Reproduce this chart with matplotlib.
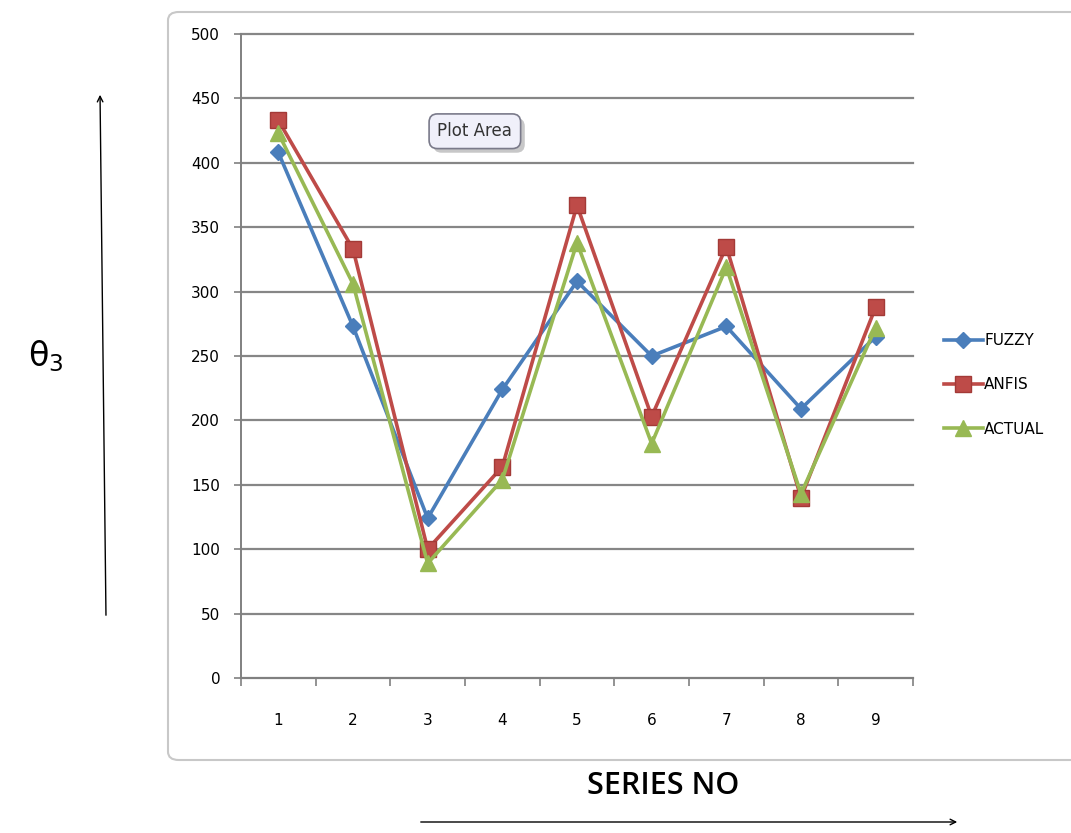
import numpy as np
import matplotlib.pyplot as plt
import matplotlib.patheffects as pe
from matplotlib.patches import FancyBboxPatch

plt.rcParams["mathtext.default"] = "regular"

series_no = [1, 2, 3, 4, 5, 6, 7, 8, 9]
fuzzy = [408, 273, 124, 224, 308, 250, 273, 209, 265]
anfis = [433, 333, 100, 164, 367, 203, 335, 140, 288]
actual = [423, 306, 89, 154, 338, 182, 319, 143, 272]

W, H = 1071, 833
fig = plt.figure(figsize=(W / 100, H / 100), dpi=100)

# chart frame
frame = FancyBboxPatch((168 / W, 1 - 760 / H), (1100 - 168) / W, (760 - 12) / H,
                       boxstyle="round,pad=0,rounding_size=0.01",
                       transform=fig.transFigure, facecolor="white",
                       edgecolor="#c8c8c8", linewidth=1.5, zorder=-5)
fig.patches.append(frame)

ax = fig.add_axes([241 / W, 1 - 678 / H, (913 - 241) / W, (678 - 34) / H])
ax.set_facecolor("none")
ax.set_zorder(2)

x = np.arange(len(series_no))
ax.plot(x, fuzzy, color="#4a7ebb", lw=2.6, marker="D", ms=8, label="FUZZY", zorder=3)
ax.plot(x, anfis, color="#be4b48", lw=2.6, marker="s", ms=11,
        markeredgecolor="#a33a37", label="ANFIS", zorder=4)
ax.plot(x, actual, color="#98b954", lw=2.6, marker="^", ms=11, label="ACTUAL", zorder=5)

ax.set_xlim(-0.5, len(series_no) - 0.5)
ax.set_ylim(0, 500)
ax.set_yticks(np.arange(0, 501, 50))
ax.set_xticks(x)
ax.set_xticklabels([str(s) for s in series_no])
ax.set_xticks(np.arange(-0.5, len(series_no)), minor=True)
ax.tick_params(axis="x", which="major", length=0, pad=25, labelsize=11)
ax.tick_params(axis="x", which="minor", length=6, width=1.2, color="#808080", direction="out")
ax.tick_params(axis="y", length=5, width=1.2, color="#808080", labelsize=11, pad=10)
ax.yaxis.grid(True, color="#868686", lw=1.6)
for gl in ax.get_ygridlines():
    gl.set_clip_on(False)
ax.set_axisbelow(True)
for s in ["top", "right"]:
    ax.spines[s].set_visible(False)
for s in ["left", "bottom"]:
    ax.spines[s].set_color("#808080")
    ax.spines[s].set_linewidth(1.4)

ax.legend(loc="center left", bbox_to_anchor=(1.025, 0.455), frameon=False,
          fontsize=11, labelspacing=1.9, handlelength=2.6, handletextpad=0.05)

# tooltip box
tip = ax.text(0.348, 0.849, "Plot Area", transform=ax.transAxes, fontsize=12, color="#333333",
              ha="center", va="center",
              bbox=dict(boxstyle="round,pad=0.5", facecolor="#f0f0fa", edgecolor="#7a7a8a", lw=1.2))
tip.get_bbox_patch().set_path_effects([pe.SimplePatchShadow(offset=(3, -3), alpha=0.3), pe.Normal()])

fig.text(28 / W, 1 - 356 / H, r"$\theta_3$", fontsize=24, ha="left", va="center")
fig.text(663 / W, 1 - 786 / H, "SERIES NO", fontsize=22, ha="center", va="center",
         family="Open Sans", weight="semibold")

# direction arrows
fig.add_artist(plt.Annotation("", xy=(100 / W, 1 - 92 / H), xytext=(106 / W, 1 - 618 / H),
                              xycoords="figure fraction",
                              arrowprops=dict(arrowstyle="->", color="black", lw=1)))
fig.add_artist(plt.Annotation("", xy=(960 / W, 1 - 822 / H), xytext=(418 / W, 1 - 822 / H),
                              xycoords="figure fraction",
                              arrowprops=dict(arrowstyle="->", color="black", lw=1)))

fig.savefig("out.png", dpi=100)
